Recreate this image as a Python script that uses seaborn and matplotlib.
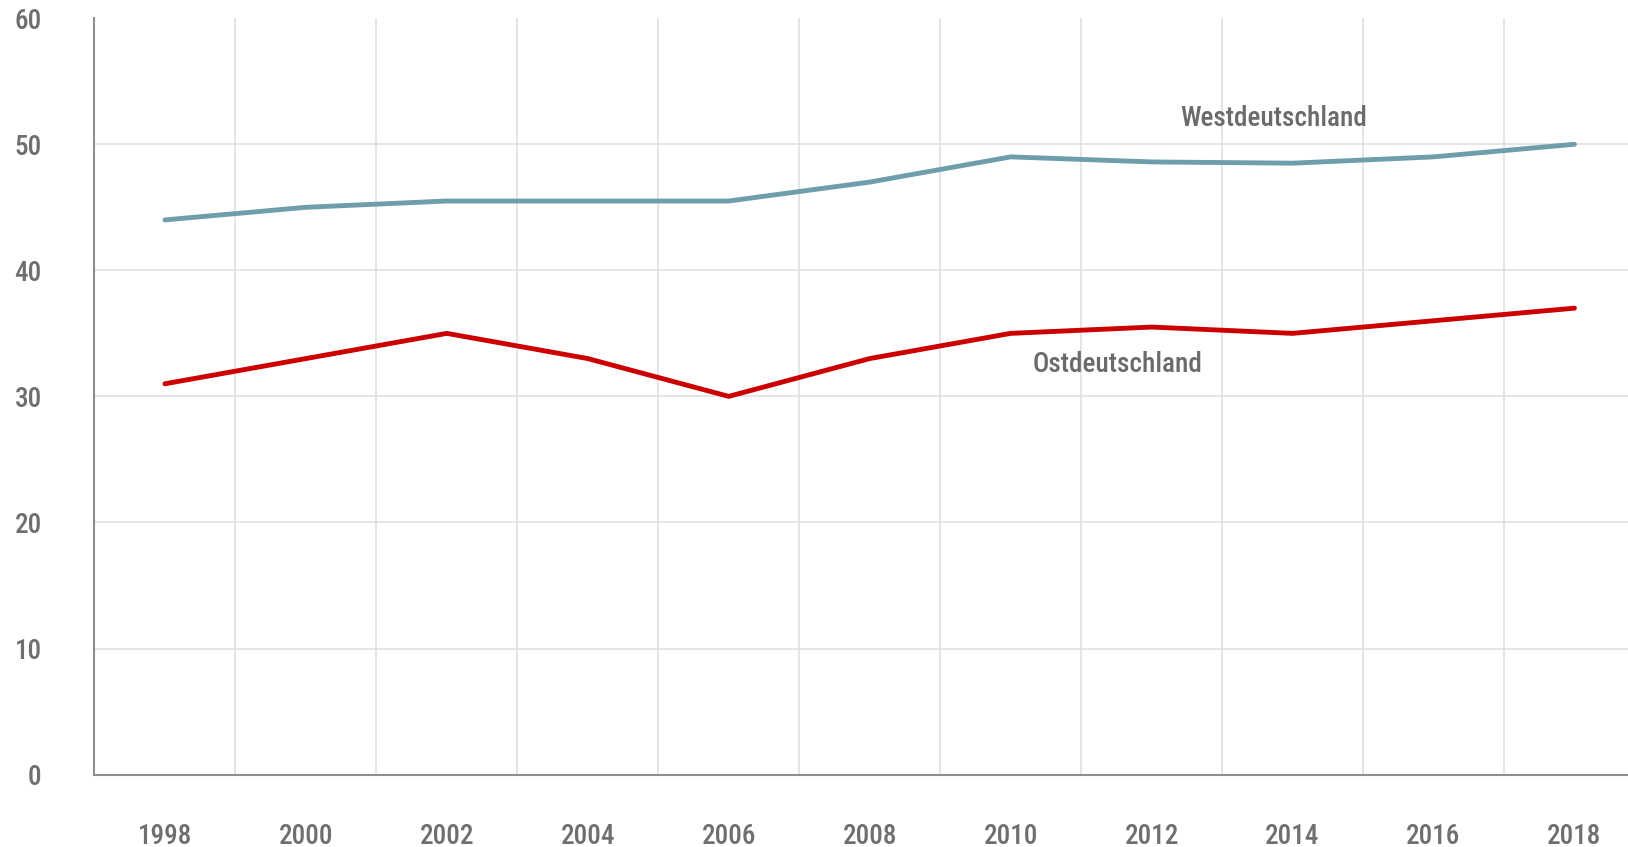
import matplotlib
matplotlib.use("Agg")
import matplotlib.pyplot as plt
import seaborn as sns
import pandas as pd
from matplotlib import font_manager

years = ["1998", "2000", "2002", "2004", "2006", "2008", "2010", "2012", "2014", "2016", "2018"]
west = [44.0, 45.0, 45.5, 45.5, 45.5, 47.0, 49.0, 48.6, 48.5, 49.0, 50.0]
east = [31.0, 33.0, 35.0, 33.0, 30.0, 33.0, 35.0, 35.5, 35.0, 36.0, 37.0]
series_names = ["Westdeutschland", "Ostdeutschland"]
y_ticks = [0, 10, 20, 30, 40, 50, 60]

sns.set_theme(style="white")
avail = {f.name for f in font_manager.fontManager.ttflist}
fam = [f for f in ["Roboto Condensed", "Liberation Sans Narrow", "Roboto", "DejaVu Sans"] if f in avail]
plt.rcParams["font.family"] = fam
W = "medium"

df = pd.DataFrame({
    "idx": list(range(len(years))) * 2,
    "value": west + east,
    "series": [series_names[0]] * len(years) + [series_names[1]] * len(years),
})

colors = {series_names[0]: "#6e9dac", series_names[1]: "#cc0000"}

fig = plt.figure(figsize=(16.28, 8.47), dpi=100)
ax = fig.add_axes([0.058, 0.0855, 0.942, 0.893])

sns.lineplot(data=df, x="idx", y="value", hue="series", palette=colors,
             linewidth=3.5, ax=ax, legend=False, solid_capstyle="round")

ax.set_xlim(-0.5, 10.38)
ax.set_ylim(0, 60)
ax.set_yticks(y_ticks)
ax.set_xticks(range(len(years)))
ax.set_xticklabels(years)
ax.set_xticks([i + 0.5 for i in range(len(years) - 1)], minor=True)

ax.grid(False)
ax.grid(axis="y", which="major", color="#dedede", linewidth=1.1)
ax.grid(axis="x", which="minor", color="#dedede", linewidth=1.1)
ax.set_axisbelow(True)
gl = ax.get_ygridlines()
gl[-1].set_visible(False)

for s in ["top", "right"]:
    ax.spines[s].set_visible(False)
for s in ["left", "bottom"]:
    ax.spines[s].set_color("#8f8f8f")
    ax.spines[s].set_linewidth(1.5)

ax.tick_params(axis="both", which="both", length=0)
ax.tick_params(axis="y", pad=38, labelsize=19.5, labelcolor="#6f6f6f")
ax.tick_params(axis="x", pad=35, labelsize=19.5, labelcolor="#6f6f6f")
for lbl in ax.get_xticklabels() + ax.get_yticklabels():
    lbl.set_fontweight(W)
ax.set_xlabel("")
ax.set_ylabel("")

ax.text(7.865, 52.05, series_names[0], ha="center", va="center",
        fontsize=19.6, color="#6b6b6b", fontweight=W)
ax.text(6.76, 32.5, series_names[1], ha="center", va="center",
        fontsize=19.6, color="#6b6b6b", fontweight=W)

fig.savefig("out.png", dpi=100)
